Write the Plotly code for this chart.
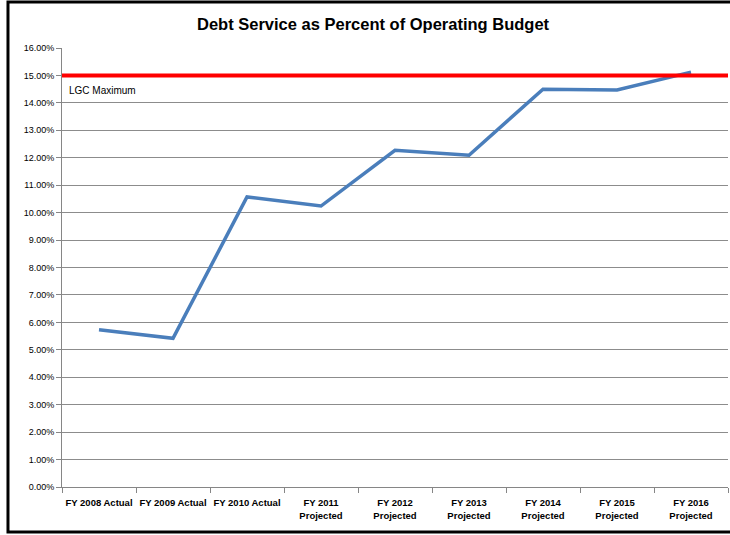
import plotly.graph_objects as go

categories = ["FY 2008 Actual", "FY 2009 Actual", "FY 2010 Actual",
              "FY 2011<br>Projected", "FY 2012<br>Projected", "FY 2013<br>Projected",
              "FY 2014<br>Projected", "FY 2015<br>Projected", "FY 2016<br>Projected"]
debt_service_pct = [0.0573, 0.0542, 0.1057, 0.1024, 0.1227, 0.1209, 0.1450, 0.1447, 0.1512]
lgc_maximum = 0.15
y_ticks = [i / 100 for i in range(0, 17)]

FONT = "Liberation Sans Narrow, Arial Narrow, Liberation Sans, Arial, sans-serif"

fig = go.Figure()
fig.add_trace(go.Scatter(
    x=categories, y=debt_service_pct, mode="lines",
    line=dict(color="#4A7EBB", width=3.5), showlegend=False, hoverinfo="skip"))

fig.add_shape(type="line", xref="paper", yref="y", x0=0, x1=1,
              y0=lgc_maximum, y1=lgc_maximum, line=dict(color="#FF0000", width=4))
fig.add_annotation(text="LGC Maximum", xref="paper", yref="y", x=0.008, y=lgc_maximum,
                   yshift=-15, xanchor="left", showarrow=False,
                   font=dict(family=FONT, size=10, color="#000"))

# outer chart border
fig.add_shape(type="rect", xref="paper", yref="paper",
              x0=-0.0811, x1=1.06, y0=-0.1025, y1=1.1048,
              line=dict(color="#000", width=3), layer="above")

fig.update_layout(
    width=730, height=535,
    margin=dict(l=62, r=2, t=48, b=48, autoexpand=False),
    paper_bgcolor="white", plot_bgcolor="white",
    title=dict(text="<b>Debt Service as Percent of Operating Budget</b>",
               x=0.511, xanchor="center", y=0.955, yanchor="middle",
               font=dict(family=FONT, size=16.5, color="#000")),
    font=dict(family=FONT, color="#000"),
    xaxis=dict(type="category", range=[-0.5, 8.5], showgrid=False, automargin=False,
               showline=True, linecolor="#868686", linewidth=1, tickangle=0,
               ticks="outside", ticklen=5, tickcolor="#868686", tickson="boundaries",
               ticklabelstandoff=7,
               tickfont=dict(family=FONT, size=9.5, color="#000"),
               tickprefix="<b>", ticksuffix="</b>"),
    yaxis=dict(range=[0, 0.16], tickvals=y_ticks, tickformat=".2%", automargin=False,
               showgrid=True, gridcolor="#8C8C8C", gridwidth=1,
               showline=True, linecolor="#868686", linewidth=1,
               ticks="outside", ticklen=5, tickcolor="#868686",
               tickfont=dict(family=FONT, size=9, color="#000"), zeroline=False),
)

fig.write_html("out.html", config={"displayModeBar": False},
               post_script="document.body.style.margin='0';")
